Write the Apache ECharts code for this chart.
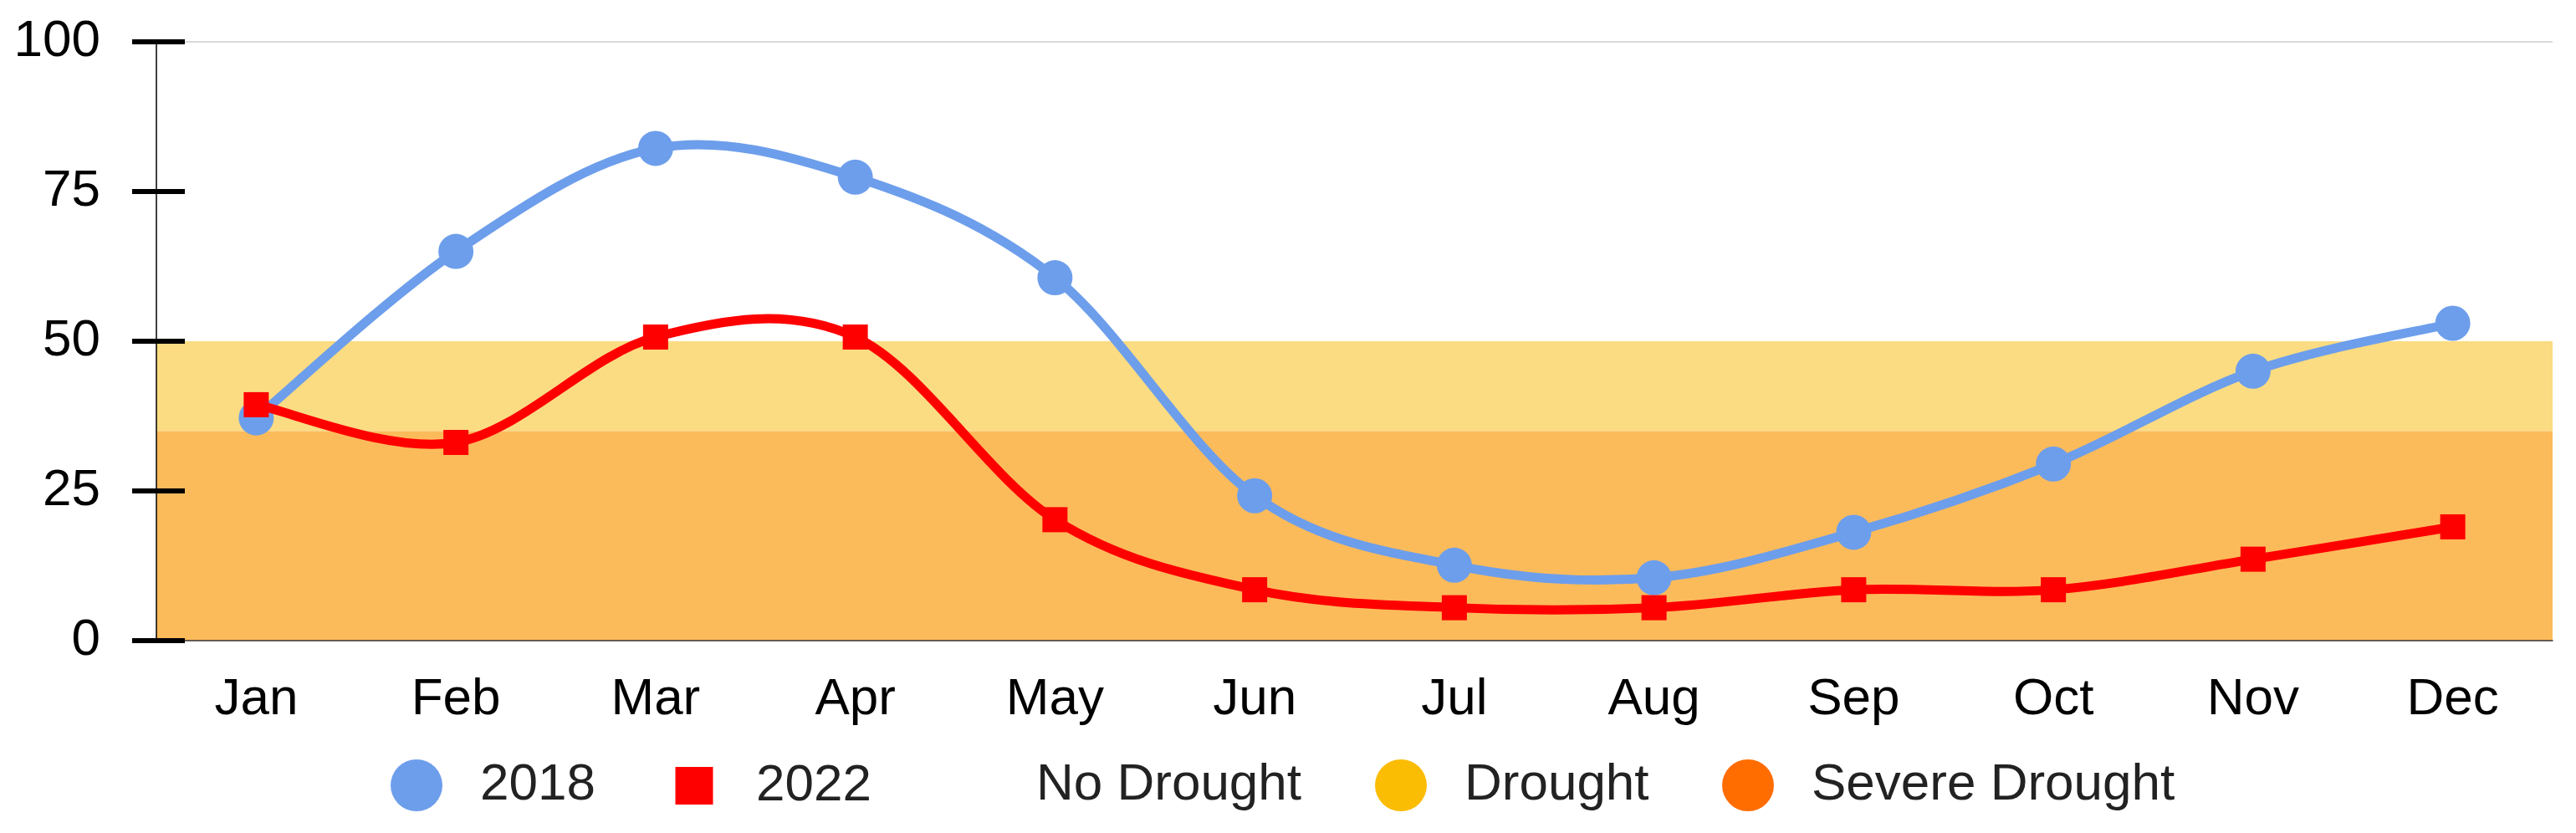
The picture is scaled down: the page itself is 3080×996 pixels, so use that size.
<!DOCTYPE html>
<html>
<head>
<meta charset="utf-8">
<script src="https://cdn.jsdelivr.net/npm/echarts@6.0.0/dist/echarts.min.js"></script>
<style>
  html, body { margin: 0; padding: 0; background: #ffffff; }
  #chart { width: 3080px; height: 996px; }
</style>
</head>
<body>
<div id="chart"></div>
<script>
// ---- data ----
const months = ['Jan', 'Feb', 'Mar', 'Apr', 'May', 'Jun', 'Jul', 'Aug', 'Sep', 'Oct', 'Nov', 'Dec'];
const values2018 = [37.2, 65.0, 82.2, 77.4, 60.6, 24.2, 12.6, 10.5, 18.1, 29.5, 45.0, 53.0];
const values2022 = [39.4, 33.1, 50.7, 50.7, 20.2, 8.5, 5.5, 5.5, 8.5, 8.5, 13.6, 19.0];
const droughtRange = [35, 50];
const severeDroughtRange = [0, 35];
const yTicks = [0, 25, 50, 75, 100];
const seriesNames = ['2018', '2022', 'No Drought', 'Drought', 'Severe Drought'];

// ---- styles ----
const FONT = "'Liberation Sans', Arial, sans-serif";
const BLUE = '#6D9EEB';
const RED = '#FF0000';
const YELLOW = '#FBBC04';
const ORANGE = '#FF6D01';
const BAND_DROUGHT = '#FBDC82';
const BAND_SEVERE = '#FCBB5B';
const LINE_WIDTH = 11;
const TENSION = 1 / 6;

const chart = echarts.init(document.getElementById('chart'), null, { renderer: 'canvas' });

const legendText = { fontFamily: FONT, fontSize: 62, color: '#222222', lineHeight: 40 };
function makeLegend(name, left, top, w, h, icon, padLeft) {
  return {
    show: true,
    data: [{ name: name, icon: icon }],
    left: left,
    top: top,
    padding: 0,
    itemWidth: w,
    itemHeight: h,
    selectedMode: false,
    itemStyle: { borderWidth: 0 },
    textStyle: Object.assign({}, legendText, { padding: [0, 0, 0, padLeft] })
  };
}

// Smooth curve (cardinal spline through the data points), one bezier segment per data item,
// positioned with the chart's own axes through api.coord.
function curveSeries(name, values, color, z) {
  return {
    name: name,
    type: 'custom',
    z: z,
    silent: true,
    data: values.map(function (v, i) { return [i, v]; }),
    encode: { x: 0, y: 1 },
    renderItem: function (params, api) {
      const i = params.dataIndex;
      const n = values.length;
      if (i >= n - 1) return null;
      const pt = function (k) {
        const kk = Math.max(0, Math.min(n - 1, k));
        return api.coord([kk, values[kk]]);
      };
      const p0 = pt(i - 1), p1 = pt(i), p2 = pt(i + 1), p3 = pt(i + 2);
      return {
        type: 'bezierCurve',
        shape: {
          x1: p1[0], y1: p1[1],
          cpx1: p1[0] + (p2[0] - p0[0]) * TENSION,
          cpy1: p1[1] + (p2[1] - p0[1]) * TENSION,
          cpx2: p2[0] - (p3[0] - p1[0]) * TENSION,
          cpy2: p2[1] - (p3[1] - p1[1]) * TENSION,
          x2: p2[0], y2: p2[1]
        },
        style: { stroke: color, lineWidth: LINE_WIDTH, fill: 'none', lineCap: 'round' }
      };
    }
  };
}

const option = {
  backgroundColor: '#ffffff',
  animation: false,
  grid: { left: 187, right: 28, top: 50, bottom: 230, containLabel: false, outerBoundsMode: 'none' },
  legend: [
    makeLegend(seriesNames[0], 467, 908, 142, 62, 'circle', 0),
    makeLegend(seriesNames[1], 807.5, 908.5, 45, 45, 'rect', 46.5),
    makeLegend(seriesNames[2], 1132, 908, 142, 62, 'circle', 0),
    makeLegend(seriesNames[3], 1644, 908, 142, 62, 'circle', 0),
    makeLegend(seriesNames[4], 2059, 908, 142, 62, 'circle', 0)
  ],
  xAxis: [
    {
      type: 'category',
      data: months,
      boundaryGap: true,
      position: 'bottom',
      z: 10,
      axisLine: { show: true, lineStyle: { color: '#333333', width: 1.5 } },
      axisTick: { show: false },
      splitLine: { show: false },
      axisLabel: { fontFamily: FONT, fontSize: 62, color: '#000000', margin: 40, lineHeight: 62 }
    }
  ],
  yAxis: [
    {
      type: 'value',
      min: yTicks[0],
      max: yTicks[yTicks.length - 1],
      interval: yTicks[1] - yTicks[0],
      position: 'left',
      z: 10,
      axisLine: { show: true, lineStyle: { color: '#000000', width: 1.5 } },
      axisTick: { show: true, inside: false, length: 29, lineStyle: { color: '#000000', width: 6 } },
      splitLine: { show: false },
      axisLabel: { fontFamily: FONT, fontSize: 62, color: '#000000', margin: 67 }
    },
    {
      type: 'value',
      min: yTicks[0],
      max: yTicks[yTicks.length - 1],
      interval: yTicks[1] - yTicks[0],
      position: 'left',
      z: 10,
      axisLine: { show: false },
      axisTick: { show: true, inside: true, length: 34, lineStyle: { color: '#000000', width: 6 } },
      splitLine: { show: false },
      axisLabel: { show: false }
    }
  ],
  series: [
    {
      name: seriesNames[3],
      type: 'line',
      data: [],
      itemStyle: { color: YELLOW },
      silent: true,
      markArea: {
        silent: true,
        itemStyle: { color: BAND_DROUGHT, opacity: 1 },
        data: [[{ yAxis: droughtRange[0] }, { yAxis: droughtRange[1] }]]
      }
    },
    {
      name: seriesNames[4],
      type: 'line',
      data: [],
      itemStyle: { color: ORANGE },
      silent: true,
      markArea: {
        silent: true,
        itemStyle: { color: BAND_SEVERE, opacity: 1 },
        data: [[{ yAxis: severeDroughtRange[0] }, { yAxis: severeDroughtRange[1] }]]
      }
    },
    {
      name: seriesNames[2],
      type: 'line',
      data: [],
      itemStyle: { color: 'rgba(255,255,255,0)' },
      silent: true,
      markLine: {
        silent: true,
        symbol: ['none', 'none'],
        label: { show: false },
        lineStyle: { color: '#cccccc', width: 1.5, type: 'solid' },
        data: [{ yAxis: yTicks[yTicks.length - 1] }]
      }
    },
    curveSeries('2018 curve', values2018, BLUE, 3),
    {
      name: seriesNames[0],
      type: 'line',
      data: values2018,
      symbol: 'circle',
      symbolSize: 42,
      z: 4,
      lineStyle: { opacity: 0, width: 0 },
      itemStyle: { color: BLUE, borderWidth: 0 }
    },
    curveSeries('2022 curve', values2022, RED, 5),
    {
      name: seriesNames[1],
      type: 'line',
      data: values2022,
      symbol: 'rect',
      symbolSize: 30,
      z: 6,
      lineStyle: { opacity: 0, width: 0 },
      itemStyle: { color: RED, borderWidth: 0 }
    }
  ]
};

chart.setOption(option);
</script>
</body>
</html>
